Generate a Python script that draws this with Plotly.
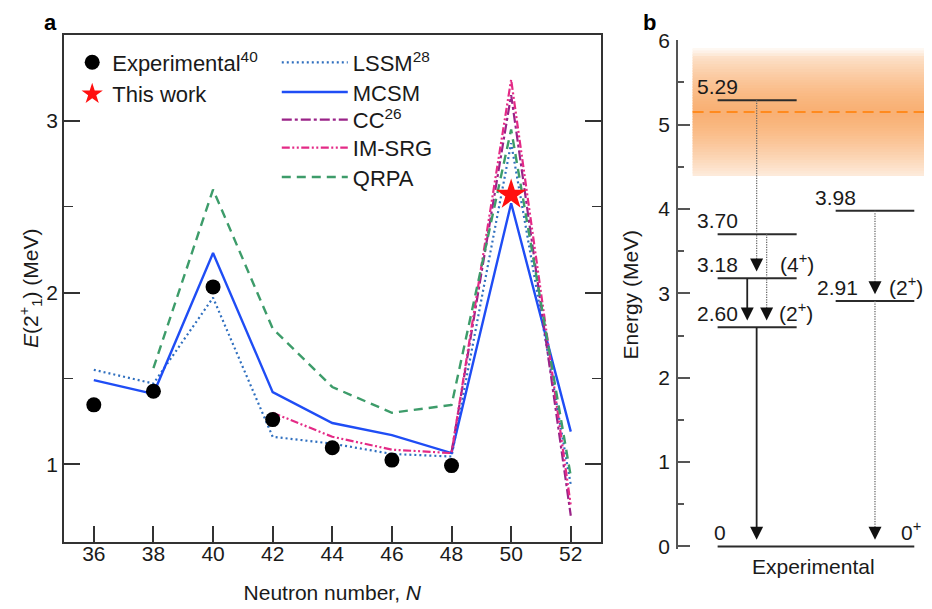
import plotly.graph_objects as go

# ---------------- Panel a data ----------------
N_all = [36, 38, 40, 42, 44, 46, 48, 50, 52]
exp_N = [36, 38, 40, 42, 44, 46, 48]
exp_E = [1.346, 1.425, 2.033, 1.260, 1.096, 1.024, 0.992]
this_N = [50]
this_E = [2.57]
lssm_N = N_all
lssm_E = [1.55, 1.47, 1.97, 1.16, 1.12, 1.06, 1.045, 2.87, 0.88]
mcsm_N = N_all
mcsm_E = [1.49, 1.41, 2.23, 1.42, 1.24, 1.17, 1.065, 2.52, 1.19]
cc_N = [48, 50, 52]
cc_E = [1.07, 3.15, 0.70]
imsrg_N = [42, 44, 46, 48, 50, 52]
imsrg_E = [1.30, 1.16, 1.085, 1.065, 3.24, 0.76]
qrpa_N = [38, 40, 42, 44, 46, 48, 50, 52]
qrpa_E = [1.56, 2.60, 1.79, 1.45, 1.30, 1.345, 2.95, 0.93]
x_ticks = [36, 38, 40, 42, 44, 46, 48, 50, 52]
y_ticks = [1, 2, 3]

# ---------------- Panel b data ----------------
levels_E = [5.29, 3.70, 3.18, 2.60, 3.98, 2.91, 0.0]
levels_lab = ["5.29", "3.70", "3.18", "2.60", "3.98", "2.91", "0"]
levels_col = [0, 0, 0, 0, 1, 1, 2]          # 0: left column, 1: right column, 2: ground (both)
spin_E = [3.18, 2.60, 2.91, 0.0]
spin_lab = ["(4<sup>+</sup>)", "(2<sup>+</sup>)", "(2<sup>+</sup>)", "0<sup>+</sup>"]
tr_from = [5.29, 3.70, 3.18, 2.60, 3.98, 2.91]
tr_to = [3.18, 2.60, 2.60, 0.0, 2.91, 0.0]
tr_dotted = [True, True, False, False, True, True]
band_center = 5.15
band_half = 0.76
b_ticks = [0, 1, 2, 3, 4, 5, 6]

# ---------------- layout geometry (figure pixels; page has an 8px body margin) ----------------
W, H = 924, 601
L, R, T, B = 56.3, 0, 27, 59.8
PW, PH = W - L - R, H - T - B
FONT = "Liberation Sans"
TXT = "#1a1a1a"
FS = 21

def dx(p):
    return (p - L) / PW

def dy(p):
    return (H - B - p) / PH

# panel b horizontal layout in x2 units (pixels from the axis line)
col_span = {0: (39.4, 118.4), 1: (157.4, 236.0), 2: (39.4, 236.0)}
tr_x = [78.4, 88.4, 69.0, 78.4, 196.7, 196.7]
ARROW_GAP = 0.08

fig = go.Figure()

# ---- panel a traces ----
fig.add_trace(go.Scatter(x=lssm_N, y=lssm_E, mode="lines", name="LSSM<sup>28</sup>",
                         line=dict(color="#2f6fbf", width=2.2, dash="2px,3px"), legend="legend2"))
fig.add_trace(go.Scatter(x=mcsm_N, y=mcsm_E, mode="lines", name="MCSM",
                         line=dict(color="#1f4df5", width=2.4), legend="legend3"))
fig.add_trace(go.Scatter(x=cc_N, y=cc_E, mode="lines", name="CC<sup>26</sup>",
                         line=dict(color="#9a2388", width=2.2, dash="10px,3px,3px,3px"), legend="legend4"))
fig.add_trace(go.Scatter(x=imsrg_N, y=imsrg_E, mode="lines", name="IM-SRG",
                         line=dict(color="#e42a86", width=2.2, dash="8px,2.5px,2px,2.5px,2px,2.5px"),
                         legend="legend5"))
fig.add_trace(go.Scatter(x=qrpa_N, y=qrpa_E, mode="lines", name="QRPA",
                         line=dict(color="#3d9c6a", width=2.4, dash="9px,6px"), legend="legend6"))
fig.add_trace(go.Scatter(x=exp_N, y=exp_E, mode="markers", name="Experimental<sup>40</sup>",
                         marker=dict(symbol="circle", size=15, color="black"), legend="legend"))
fig.add_trace(go.Scatter(x=this_N, y=this_E, mode="markers", name="This work",
                         marker=dict(symbol="star", size=23, color="#ff1010", line=dict(width=0)),
                         legend="legend"))

# ---- panel b: energy levels ----
lx, ly = [], []
for e, c in zip(levels_E, levels_col):
    x0, x1 = col_span[c]
    lx += [x0, x1, None]
    ly += [e, e, None]
fig.add_trace(go.Scatter(x=lx, y=ly, mode="lines", xaxis="x2", yaxis="y2", showlegend=False,
                         line=dict(color="#2b2b2b", width=2), hoverinfo="skip"))

# ---- panel b: transitions ----
for f, t, x, d in zip(tr_from, tr_to, tr_x, tr_dotted):
    fig.add_trace(go.Scatter(x=[x, x], y=[f, t + ARROW_GAP + 0.05], mode="lines", xaxis="x2", yaxis="y2",
                             showlegend=False, hoverinfo="skip",
                             line=dict(color="#6a6a6a" if d else "#222", width=1.3 if d else 1.8,
                                       dash="1.2px,1.3px" if d else "solid")))
fig.add_trace(go.Scatter(x=tr_x, y=[t + ARROW_GAP for t in tr_to], mode="markers", xaxis="x2", yaxis="y2",
                         showlegend=False, hoverinfo="skip", cliponaxis=False,
                         marker=dict(symbol="arrow-down", size=13, color="#111", line=dict(width=0))))

# ---- panel b: orange uncertainty band (gradient via overlapping strips) ----
shapes = []
nstrip = 48
orange = (245, 128, 30)
step = 2 * band_half / nstrip
for k in range(nstrip):
    y0 = band_center - band_half + step * k
    y1 = min(y0 + step * 1.6, band_center + band_half)
    ym = y0 + 0.5 * step
    d = abs(ym - band_center) / band_half
    a = 0.15 + 0.47 * (1 - d ** 1.4)
    if ym > band_center and d > 0.85:
        a *= 0.25 + 0.75 * max(0.0, (1 - d) / 0.15)
    col = tuple(int(round(255 - a * (255 - o))) for o in orange)
    shapes.append(dict(type="rect", xref="x2", yref="y2", x0=14.4, x1=253.7, y0=y0, y1=y1,
                       fillcolor="rgb(%d,%d,%d)" % col, line=dict(width=0), layer="below"))
shapes.append(dict(type="line", xref="x2", yref="y2", x0=14.4, x1=253.7, y0=band_center, y1=band_center,
                   line=dict(color="#ff8a1e", width=2.2, dash="11px,6px"), layer="above"))

# ---- annotations ----
ann = []
lab_x = {0: 16.7, 1: 134.7, 2: 33.4}
for e, lab, c in zip(levels_E, levels_lab, levels_col):
    x = lab_x[c]
    if lab == "2.91":
        x = 136.7
    ann.append(dict(x=x, y=e, xref="x2", yref="y2", text=lab, showarrow=False, xanchor="left",
                    yanchor="bottom", yshift=0, font=dict(size=FS, color=TXT, family=FONT)))
spin_x = [99.7, 98.7, 209.0, 220.5]
for e, lab, x in zip(spin_E, spin_lab, spin_x):
    ann.append(dict(x=x, y=e, xref="x2", yref="y2", text=lab, showarrow=False, xanchor="left",
                    yanchor="bottom", yshift=0, font=dict(size=FS, color=TXT, family=FONT)))
ann.append(dict(x=135, y=0, xref="x2", yref="y2", text="Experimental", showarrow=False,
                xanchor="center", yanchor="top", yshift=-7, font=dict(size=FS, color=TXT, family=FONT)))
ann.append(dict(x=dx(34), y=dy(0), xref="paper", yref="paper", text="<b>a</b>", showarrow=False,
                xanchor="left", yanchor="top", font=dict(size=22, color="black", family=FONT)))
ann.append(dict(x=dx(633), y=dy(0), xref="paper", yref="paper", text="<b>b</b>", showarrow=False,
                xanchor="left", yanchor="top", font=dict(size=22, color="black", family=FONT)))

axis_common = dict(showgrid=False, zeroline=False, tickcolor="#333", linecolor="#333", automargin=False,
                   tickfont=dict(size=FS, color=TXT, family=FONT))

leg_common = dict(xanchor="left", yanchor="top", bgcolor="rgba(0,0,0,0)",
                  font=dict(size=22, color=TXT, family=FONT), tracegroupgap=0)
row_centers = [54, 83.7, 111.3, 139.3, 168.7]
LEG_OFF = 20.5
legends = {}
for i, rc in enumerate(row_centers):
    key = "legend%d" % (i + 2)
    legends[key] = dict(x=dx(269), y=dy(rc - LEG_OFF), itemwidth=66, **leg_common)

fig.update_layout(
    width=W, height=H,
    margin=dict(l=L, r=R, t=T, b=B, autoexpand=False),
    paper_bgcolor="white", plot_bgcolor="rgba(0,0,0,0)",
    font=dict(family=FONT, color=TXT, size=FS),
    shapes=shapes,
    annotations=ann,
    xaxis=dict(domain=[dx(56.3), dx(592.7)], range=[35, 53], tickvals=x_ticks,
               ticks="inside", ticklen=16, tickwidth=1.6, showline=True, linewidth=1.8, mirror=True,
               ticklabelstandoff=-8,
               title=dict(text="Neutron number, <i>N</i>", font=dict(size=FS, color=TXT), standoff=22),
               **axis_common),
    yaxis=dict(domain=[dy(533.7), dy(27)], range=[0.55, 3.5], tickvals=y_ticks,
               ticks="inside", ticklen=16, tickwidth=1.6, showline=True, linewidth=1.8, mirror="ticks",
               minor=dict(tickvals=[1.5, 2.5], ticklen=9, ticks="inside", tickwidth=1.4, tickcolor="#333"),
               ticklabelstandoff=0,
               title=dict(text="<i>E</i>(2<sup>+</sup><sub>1</sub>) (MeV)", font=dict(size=FS, color=TXT),
                          standoff=2),
               **axis_common),
    xaxis2=dict(domain=[dx(670.3), 1.0], range=[0, 253.7], visible=False, anchor="y2"),
    yaxis2=dict(domain=[dy(541.2), dy(32.3)], range=[-0.03, 6], tickvals=b_ticks, anchor="x2",
                ticks="inside", ticklen=12, tickwidth=1.8, showline=True, linewidth=2, linecolor="#555",
                minor=dict(tickvals=[0.5, 1.5, 2.5, 3.5, 4.5, 5.5], ticklen=6, ticks="inside",
                           tickwidth=1.6, tickcolor="#555"),
                ticklabelstandoff=2, automargin=False,
                title=dict(text="Energy (MeV)", font=dict(size=FS, color=TXT), standoff=14),
                showgrid=False, zeroline=False, tickcolor="#555",
                tickfont=dict(size=FS, color=TXT, family=FONT)),
    legend=dict(x=dx(64.5), y=dy(54 - LEG_OFF), itemwidth=30, **leg_common),
    **legends,
)

fig.write_html("out.html")
